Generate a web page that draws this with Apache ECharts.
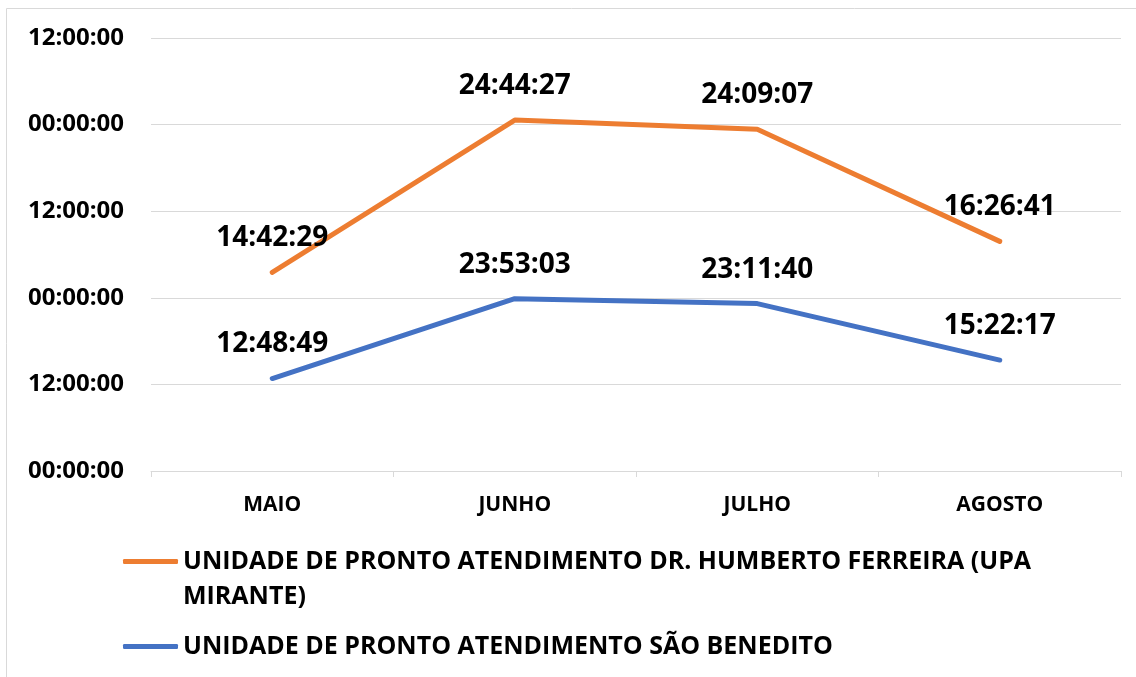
<!DOCTYPE html>
<html>
<head>
<meta charset="utf-8">
<script src="https://cdn.jsdelivr.net/npm/echarts@6/dist/echarts.min.js"></script>
<style>
    html, body { margin: 0; padding: 0; background: #fff; }
    #chart { width: 1136px; height: 677px; }
</style>
</head>
<body>
<div id="chart"></div>
<script>
// dados (tempo médio, hh:mm:ss)
var meses = ['MAIO', 'JUNHO', 'JULHO', 'AGOSTO']
var nomeMirante = 'UNIDADE DE PRONTO ATENDIMENTO DR. HUMBERTO FERREIRA (UPA MIRANTE)'
var nomeBenedito = 'UNIDADE DE PRONTO ATENDIMENTO SÃO BENEDITO'
var tempoMirante = ['14:42:29', '24:44:27', '24:09:07', '16:26:41']
var tempoBenedito = ['12:48:49', '23:53:03', '23:11:40', '15:22:17']
// eixo y em horas (o Excel mostra só a hora do dia)
var eixoMin = 0
var eixoMax = 60
var eixoPasso = 12

// "hh:mm:ss" -> horas
function emHoras(t) {
    var p = t.split(':').map(Number)
    return p[0] + p[1] / 60 + p[2] / 3600
}

function rotuloEixo(v) {
    var h = v % 24
    return (h < 10 ? '0' + h : '' + h) + ':00:00'
}

var fonte = '"Open Sans", sans-serif'
var laranja = '#ED7D31'
var azul = '#4472C4'

var chart = echarts.init(document.getElementById('chart'))

var rotuloSerie = function (lista) {
    return {
        show: true,
        position: 'top',
        distance: 20,
        color: '#000',
        fontFamily: fonte,
        fontWeight: 'bold',
        fontSize: 28,
        formatter: function (p) { return lista[p.dataIndex] }
    }
}

var textoLegenda = {
    color: '#000',
    fontFamily: fonte,
    fontWeight: 'bold',
    fontSize: 25,
    lineHeight: 35
}

chart.setOption({
    animation: false,
    color: [azul, laranja],
    graphic: [{
        type: 'rect',
        silent: true,
        shape: { x: 6.5, y: 8.5, width: 1300, height: 800 },
        style: { fill: 'none', stroke: '#d9d9d9', lineWidth: 1 }
    }],
    grid: {
        left: 151,
        right: 15,
        top: 38,
        bottom: 206
    },
    legend: [
        {
            data: [nomeMirante],
            orient: 'vertical',
            left: 123,
            top: 509,
            padding: 0,
            icon: 'roundRect',
            itemWidth: 55,
            itemHeight: 5,
            // linha vazia em cima para o traço ficar na 1ª linha do texto
            formatter: function (n) { return '\n' + n.replace('(UPA MIRANTE)', '(UPA\nMIRANTE)') },
            textStyle: textoLegenda
        },
        {
            data: [nomeBenedito],
            orient: 'vertical',
            left: 123,
            top: 629,
            padding: 0,
            icon: 'roundRect',
            itemWidth: 55,
            itemHeight: 5,
            textStyle: textoLegenda
        }
    ],
    xAxis: {
        type: 'category',
        data: meses,
        boundaryGap: true,
        axisLine: { lineStyle: { color: '#d9d9d9', width: 1 } },
        axisTick: { show: true, length: 6, lineStyle: { color: '#d9d9d9' } },
        axisLabel: {
            color: '#000',
            fontFamily: fonte,
            fontWeight: 'bold',
            fontSize: 21,
            margin: 24
        }
    },
    yAxis: {
        type: 'value',
        min: eixoMin,
        max: eixoMax,
        interval: eixoPasso,
        axisLine: { show: false },
        axisTick: { show: false },
        splitLine: { lineStyle: { color: '#d9d9d9', width: 1 } },
        axisLabel: {
            color: '#000',
            fontFamily: fonte,
            fontWeight: 'bold',
            fontSize: 24,
            margin: 27,
            formatter: rotuloEixo
        }
    },
    series: [
        {
            name: nomeBenedito,
            type: 'line',
            stack: 'total',
            data: tempoBenedito.map(emHoras),
            symbol: 'circle',
            symbolSize: 0,
            showSymbol: true,
            lineStyle: { color: azul, width: 5, cap: 'round' },
            itemStyle: { color: azul },
            label: rotuloSerie(tempoBenedito)
        },
        {
            name: nomeMirante,
            type: 'line',
            stack: 'total',
            data: tempoMirante.map(emHoras),
            symbol: 'circle',
            symbolSize: 0,
            showSymbol: true,
            lineStyle: { color: laranja, width: 5, cap: 'round' },
            itemStyle: { color: laranja },
            label: rotuloSerie(tempoMirante)
        }
    ]
})
</script>
</body>
</html>
